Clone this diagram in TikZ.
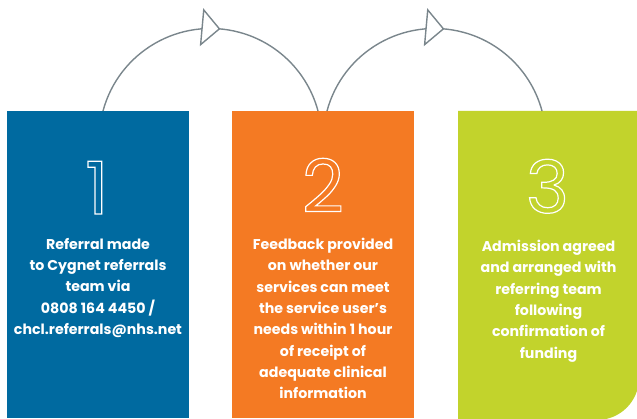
\documentclass[tikz,border=0pt]{standalone}
\usepackage{fontspec}
\setmainfont{Poppins}
\usetikzlibrary{calc,arrows.meta,decorations.markings}

\definecolor{cblue}{RGB}{0,106,160}
\definecolor{corange}{RGB}{244,122,35}
\definecolor{cgreen}{RGB}{194,211,44}
\definecolor{cgrey}{RGB}{122,134,140}

% outline only digits (text render mode 1)
\newcommand{\hollow}[1]{\special{pdf:literal direct 1 Tr 1.2 w}#1\special{pdf:literal direct 0 Tr}}

\tikzset{
  box/.style={inner sep=0pt, outer sep=0pt, minimum width=182pt, minimum height=307pt},
  numeral/.style={inner sep=0pt, text=white, anchor=base, font=\fontsize{73}{73}\selectfont},
  blurb/.style={inner sep=0pt, text=white, anchor=north, align=center, font=\bfseries\fontsize{14.2}{21.3}\selectfont},
  hop/.style={cgrey, line width=1.4pt, postaction={decorate},
    decoration={markings, mark=at position 0.534 with {\arrow{Triangle[length=19pt,width=38pt,fill=white]}}}},
}

\begin{document}
\begin{tikzpicture}[x=1pt,y=1pt]
\useasboundingbox (0,0) rectangle (637,418);
\clip (0,0) rectangle (637,418);

% boxes
\node[box, fill=cblue] (b1) at (98,153.5) {};
\node[box, fill=corange] (b2) at (323,153.5) {};
\node[box, minimum width=181pt, minimum height=309pt] (b3) at (548.5,152.5) {};
\fill[cgreen] (b3.south west) -- (b3.north west) -- (b3.north east)
  -- ($(b3.south east)+(0,42)$) arc[start angle=0, end angle=-90, radius=42pt] -- cycle;

% numbers
\node[numeral] (n1) at ($(b1.north)+(-1,-103)$) {\hollow{1}};
\node[numeral] (n2) at ($(b2.north)+(0,-101)$) {\hollow{2}};
\node[numeral] (n3) at ($(b3.north)+(-1,-102)$) {\hollow{3}};

% texts
\node[blurb] (t1) at ($(b1.north)+(0,-127)$) {Referral made\\to Cygnet referrals\\team via\\0808 164 4450 /\\chcl.referrals@nhs.net};
\node[blurb] (t2) at ($(b2.north)+(0,-127)$) {Feedback provided\\on whether our\\services can meet\\the service user’s\\needs within 1 hour\\of receipt of\\adequate clinical\\information};
\node[blurb] (t3) at ($(b3.north)+(0,-129)$) {Admission agreed\\and arranged with\\referring team\\following\\confirmation of\\funding};

% arcs
\coordinate (a1) at ($(b1.north)+(5,0)$);
\draw[hop] (a1) arc[start angle=165, end angle=15, radius=111.3pt];
\coordinate (a2) at ($(b2.north)+(4,0)$);
\draw[hop] (a2) arc[start angle=165, end angle=15, radius=111.3pt];

\end{tikzpicture}
\end{document}
